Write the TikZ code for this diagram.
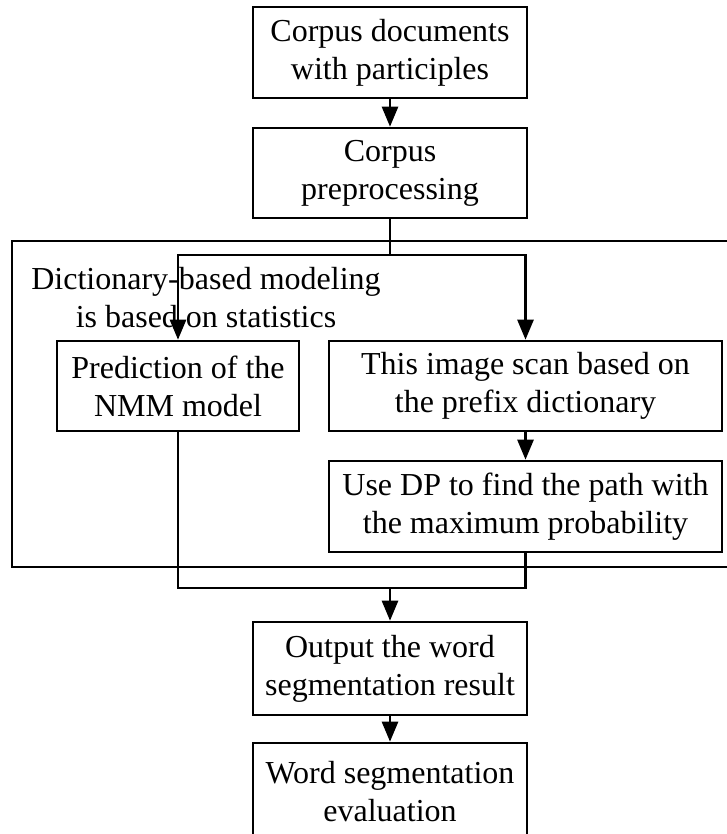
\documentclass[tikz,border=0pt]{standalone}
\usepackage{fontspec}
\setmainfont{Liberation Serif}
\usetikzlibrary{arrows.meta}
\begin{document}
\begin{tikzpicture}[x=1pt,y=-1pt,
  every path/.style={line width=2.6pt},
  stepbox/.style={draw, line width=2.6pt, align=center, inner sep=0pt,
    font=\fontsize{32}{38}\selectfont},
  arr/.style={-{Triangle[length=20pt,width=16pt]}},
  lbl/.style={align=center, inner sep=0pt, font=\fontsize{32}{38}\selectfont}]
\useasboundingbox (0,0) rectangle (726,834);
\node[stepbox, minimum width=274pt, minimum height=91pt] (b1) at (390,52.5) {Corpus documents\\with participles};
\node[stepbox, minimum width=274pt, minimum height=90pt] (b2) at (390,173) {Corpus\\preprocessing};
\draw (730,241) -- (12,241) -- (12,567) -- (730,567);
\node[stepbox, minimum width=242pt, minimum height=90pt] (left) at (178,386) {Prediction of the\\NMM model};
\node[stepbox, minimum width=393pt, minimum height=90pt] (right) at (525.5,386) {This image scan based on\\the prefix dictionary};
\node[stepbox, minimum width=393pt, minimum height=91pt] (dp) at (525.5,506.5) {Use DP to find the path with\\the maximum probability};
\node[stepbox, minimum width=274pt, minimum height=93pt] (out) at (390,668.5) {Output the word\\segmentation result};
\node[stepbox, minimum width=274pt, minimum height=98pt] (eval) at (390,792) {Word segmentation\\evaluation};
\node[lbl] (note) at (206,298) {Dictionary-based modeling\\is based on statistics};
\coordinate (split) at (390,255);
\coordinate (join) at (390,588);
\draw[arr] (b1.south) -- (b2.north);
\draw (b2.south) -- (split);
\draw[arr] (split) -| (left.north);
\draw[arr] (split) -| (right.north);
\draw[arr] (right.south) -- (dp.north);
\draw (left.south) |- (join);
\draw (dp.south) |- (join);
\draw[arr] (join) -- (out.north);
\draw[arr] (out.south) -- (eval.north);
\end{tikzpicture}
\end{document}
